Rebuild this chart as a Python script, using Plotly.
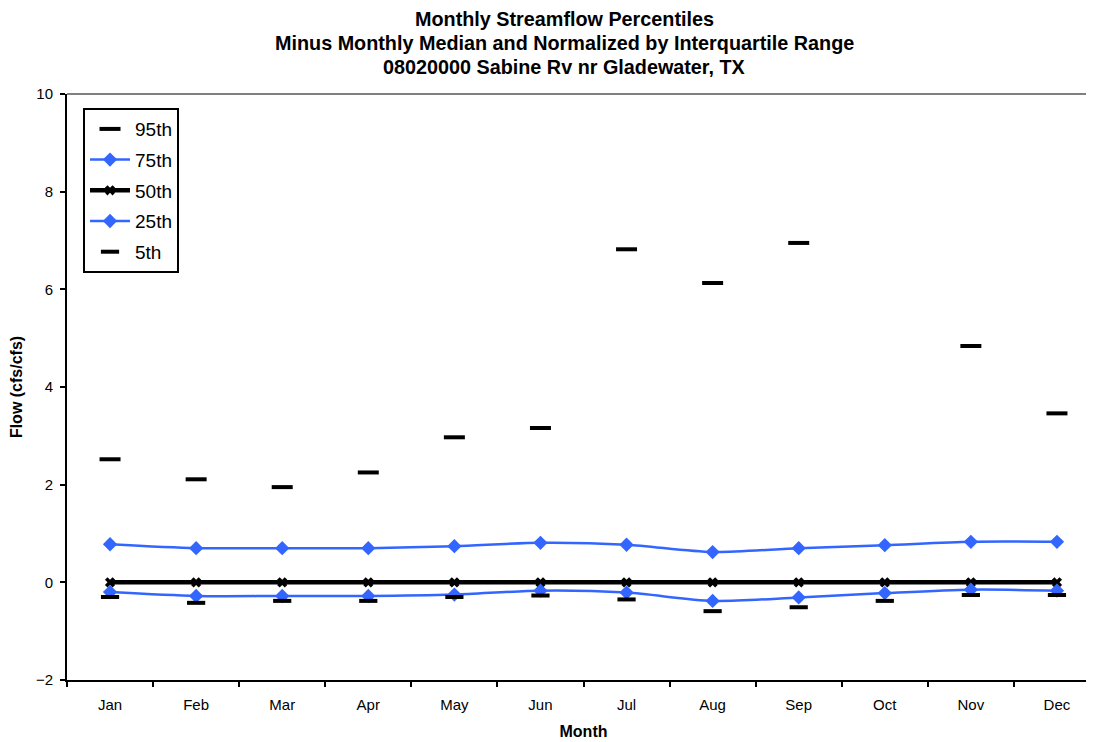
import plotly.graph_objects as go

months = ['Jan', 'Feb', 'Mar', 'Apr', 'May', 'Jun', 'Jul', 'Aug', 'Sep', 'Oct', 'Nov', 'Dec']
p95 = [2.52, 2.11, 1.95, 2.25, 2.97, 3.16, 6.82, 6.13, 6.95, 10.8, 4.84, 3.46]
p75 = [0.78, 0.70, 0.70, 0.70, 0.74, 0.81, 0.77, 0.62, 0.70, 0.76, 0.83, 0.83]
p50 = [0, 0, 0, 0, 0, 0, 0, 0, 0, 0, 0, 0]
p25 = [-0.20, -0.28, -0.28, -0.28, -0.25, -0.17, -0.21, -0.38, -0.31, -0.22, -0.15, -0.17]
p05 = [-0.30, -0.42, -0.38, -0.38, -0.30, -0.27, -0.35, -0.59, -0.51, -0.38, -0.26, -0.26]

x = list(range(len(months)))
blue = '#3366ff'
font = 'Liberation Sans, Arial, sans-serif'

fig = go.Figure()
fig.add_trace(go.Scatter(x=x, y=p95, name='95th', mode='markers', legendgroup='a',
                         marker=dict(symbol='line-ew', size=15, color='black',
                                     line=dict(width=4, color='black'))))
fig.add_trace(go.Scatter(x=x, y=p75, name='75th', mode='lines+markers', legendgroup='b',
                         line=dict(color=blue, width=2.5, shape='spline', smoothing=0.8),
                         marker=dict(symbol='diamond', size=11, color=blue)))
fig.add_trace(go.Scatter(x=x, y=p50, name='50th', mode='lines+markers', legendgroup='c',
                         line=dict(color='black', width=4.5),
                         marker=dict(symbol='x', size=9, color='black')))
fig.add_trace(go.Scatter(x=x, y=p25, name='25th', mode='lines+markers', legendgroup='d',
                         line=dict(color=blue, width=2.5, shape='spline', smoothing=0.8),
                         marker=dict(symbol='diamond', size=11, color=blue)))
fig.add_trace(go.Scatter(x=x, y=p05, name='5th', mode='markers', legendgroup='e',
                         marker=dict(symbol='line-ew', size=13, color='black',
                                     line=dict(width=4, color='black'))))

# title lines (page has 8px body margin, so figure coords are screen - 8)
titles = ['Monthly Streamflow Percentiles',
          'Minus Monthly Median and Normalized by Interquartile Range',
          '08020000 Sabine Rv nr Gladewater, TX']
for i, t in enumerate(titles):
    fig.add_annotation(text='<b>%s</b>' % t, xref='paper', yref='paper',
                       x=0.482, y=1 + (75 - 24 * i) / 586, yanchor='middle',
                       showarrow=False,
                       font=dict(size=19.8, color='black', family=font))

fig.add_shape(type='line', xref='paper', yref='paper', x0=0, x1=1, y0=1, y1=1,
              line=dict(color='#808080', width=2))

fig.update_layout(
    width=1094, height=742,
    margin=dict(l=59, r=2, t=86, b=70),
    plot_bgcolor='white', paper_bgcolor='white',
    font=dict(family=font, size=15, color='black'),
    showlegend=True,
    legend=dict(x=0.0155, y=0.976, xanchor='left', yanchor='top',
                bordercolor='black', borderwidth=2, bgcolor='white',
                font=dict(size=19), tracegroupgap=3, itemwidth=40),
    xaxis=dict(range=[-0.5, 11.5], tickvals=x, ticktext=months, ticks='',
               ticklabelstandoff=10,
               showgrid=False, zeroline=False, showline=True, linecolor='black',
               linewidth=2,
               minor=dict(tick0=0.5, dtick=1, ticks='outside', ticklen=5,
                          tickcolor='black', tickwidth=2, showgrid=False),
               title=dict(text='<b>Month</b>', font=dict(size=16), standoff=14)),
    yaxis=dict(range=[-2, 10], dtick=2, ticks='outside', ticklen=5, tickcolor='black',
               tickwidth=2, ticklabelstandoff=4, showgrid=False, zeroline=False,
               showline=True, linecolor='black', linewidth=2,
               title=dict(text='<b>Flow (cfs/cfs)</b>', font=dict(size=16), standoff=12)),
)

fig.write_html('out.html')
